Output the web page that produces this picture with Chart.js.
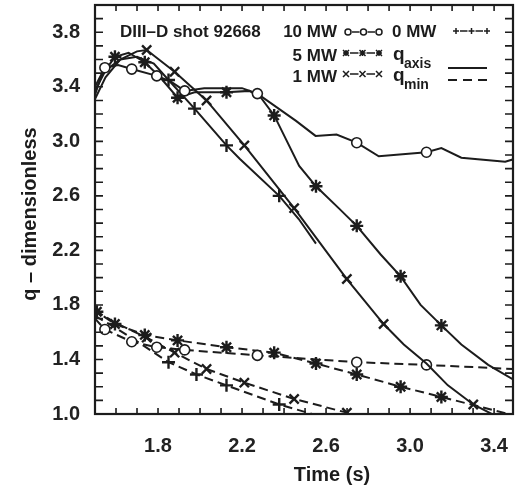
<!DOCTYPE html>
<html>
<head>
<meta charset="utf-8">
<script src="https://cdn.jsdelivr.net/npm/chart.js@4.4.0/dist/chart.umd.min.js"></script>
<style>
  html, body { margin: 0; padding: 0; background: #fff; }
  #wrap { width: 516px; height: 495px; }
</style>
</head>
<body>
<div id="wrap"><canvas id="js--chart"></canvas></div>
<script>
// tick labels
const xTicks = [1.8, 2.2, 2.6, 3.0, 3.4];
const yTicks = [1.0, 1.4, 1.8, 2.2, 2.6, 3.0, 3.4, 3.8];

// q_axis (solid lines)
const t10Axis = [1.50, 1.547, 1.61, 1.675, 1.794, 1.86, 1.927, 2.02, 2.20, 2.273, 2.457, 2.55, 2.65, 2.746, 2.851, 3.078, 3.149, 3.244, 3.453, 3.495];
const q10Axis = [3.40, 3.54, 3.56, 3.53, 3.48, 3.44, 3.37, 3.39, 3.39, 3.35, 3.15, 3.04, 3.05, 2.99, 2.89, 2.92, 2.95, 2.88, 2.85, 2.87];
const m10Axis = [1, 3, 4, 6, 9, 13, 15];

const t5Axis = [1.50, 1.53, 1.595, 1.66, 1.737, 1.81, 1.893, 1.974, 2.126, 2.235, 2.29, 2.353, 2.472, 2.552, 2.66, 2.746, 2.86, 2.955, 3.05, 3.149, 3.244, 3.372, 3.495];
const q5Axis = [3.34, 3.48, 3.62, 3.65, 3.58, 3.47, 3.32, 3.36, 3.36, 3.37, 3.32, 3.19, 2.82, 2.67, 2.51, 2.38, 2.17, 2.01, 1.80, 1.65, 1.51, 1.36, 1.25];
const m5Axis = [2, 4, 6, 8, 11, 13, 15, 17, 19];

const t1Axis = [1.50, 1.55, 1.62, 1.70, 1.746, 1.879, 2.031, 2.211, 2.448, 2.699, 2.874, 2.97, 3.078, 3.18, 3.301, 3.44];
const q1Axis = [3.31, 3.47, 3.60, 3.66, 3.67, 3.51, 3.30, 2.97, 2.51, 1.99, 1.66, 1.51, 1.37, 1.21, 1.07, 0.96];
const m1Axis = [4, 5, 6, 7, 8, 9, 10, 14];

const t0Axis = [1.50, 1.55, 1.62, 1.70, 1.78, 1.85, 1.974, 2.126, 2.19, 2.377, 2.47, 2.552];
const q0Axis = [3.37, 3.52, 3.60, 3.62, 3.57, 3.45, 3.24, 2.97, 2.87, 2.60, 2.43, 2.25];
const m0Axis = [5, 6, 7, 9];

// q_min (dashed lines)
const t10Min = [1.50, 1.547, 1.675, 1.794, 1.927, 2.273, 2.746, 3.078, 3.495];
const q10Min = [1.70, 1.62, 1.53, 1.49, 1.47, 1.43, 1.38, 1.36, 1.33];
const m10Min = [1, 2, 3, 4, 5, 6, 7];

const t5Min = [1.50, 1.509, 1.595, 1.737, 1.893, 2.126, 2.353, 2.552, 2.746, 2.955, 3.149, 3.495];
const q5Min = [1.79, 1.75, 1.66, 1.58, 1.54, 1.49, 1.45, 1.37, 1.29, 1.20, 1.125, 0.99];
const m5Min = [1, 2, 3, 4, 5, 6, 7, 8, 9, 10];

const t1Min = [1.50, 1.595, 1.746, 1.879, 2.031, 2.211, 2.448, 2.699, 2.75];
const q1Min = [1.76, 1.67, 1.56, 1.45, 1.33, 1.23, 1.11, 1.01, 0.98];
const m1Min = [2, 3, 4, 5, 6, 7];

const t0Min = [1.50, 1.60, 1.713, 1.85, 1.983, 2.126, 2.377, 2.60];
const q0Min = [1.72, 1.63, 1.52, 1.38, 1.29, 1.21, 1.07, 0.97];
const m0Min = [3, 4, 5, 6];

const ink = '#1c1c1c';
const font = "'Liberation Sans', Arial, sans-serif";

function pts(t, q) {
    return t.map(function (v, i) { return { x: v, y: q[i] }; });
}

function series(t, q, marks, style, dashed) {
    return {
        data: pts(t, q),
        borderColor: ink,
        borderWidth: 2,
        borderDash: dashed ? [9, 5] : [],
        tension: 0,
        pointStyle: style,
        pointRadius: function (c) { return marks.includes(c.dataIndex) ? (style === 'circle' ? 5 : 6.5) : 0; },
        pointBorderWidth: style === 'circle' ? 1.6 : 2.4,
        pointBorderColor: ink,
        pointBackgroundColor: '#fff',
        pointHoverRadius: 0
    };
}

const datasets = [
    series(t10Axis, q10Axis, m10Axis, 'circle', false),
    series(t5Axis, q5Axis, m5Axis, 'star', false),
    series(t1Axis, q1Axis, m1Axis, 'crossRot', false),
    series(t0Axis, q0Axis, m0Axis, 'cross', false),
    series(t10Min, q10Min, m10Min, 'circle', true),
    series(t5Min, q5Min, m5Min, 'star', true),
    series(t1Min, q1Min, m1Min, 'crossRot', true),
    series(t0Min, q0Min, m0Min, 'cross', true)
];

// small marker for the legend samples
function legendMark(ctx, style, x, y) {
    const r = 3;
    ctx.beginPath();
    if (style === 'circle') {
        ctx.arc(x, y, r, 0, Math.PI * 2);
    } else {
        if (style === 'cross' || style === 'star') {
            ctx.moveTo(x - r, y); ctx.lineTo(x + r, y);
            ctx.moveTo(x, y - r); ctx.lineTo(x, y + r);
        }
        if (style === 'crossRot' || style === 'star') {
            ctx.moveTo(x - r, y - r); ctx.lineTo(x + r, y + r);
            ctx.moveTo(x - r, y + r); ctx.lineTo(x + r, y - r);
        }
    }
    ctx.stroke();
}

function legendSample(ctx, style, x0, x1, y) {
    const xs = [x0 + 3, (x0 + x1) / 2, x1 - 3];
    ctx.lineWidth = 1.5;
    ctx.beginPath();
    ctx.moveTo(xs[0] + 4, y); ctx.lineTo(xs[1] - 4, y);
    ctx.moveTo(xs[1] + 4, y); ctx.lineTo(xs[2] - 4, y);
    ctx.stroke();
    xs.forEach(function (x) { legendMark(ctx, style, x, y); });
}

const decor = {
    id: 'decor',
    afterDraw(chart) {
        const ctx = chart.ctx;
        const a = chart.chartArea;
        const x = chart.scales.x;
        const y = chart.scales.y;
        ctx.save();
        ctx.strokeStyle = ink;
        ctx.fillStyle = ink;

        // inward ticks on all four sides, every 0.1
        ctx.lineWidth = 1.6;
        ctx.beginPath();
        for (let i = 15; i <= 34; i++) {
            const px = x.getPixelForValue(i / 10);
            ctx.moveTo(px, a.bottom); ctx.lineTo(px, a.bottom - 6);
            ctx.moveTo(px, a.top); ctx.lineTo(px, a.top + 6);
        }
        for (let i = 10; i <= 39; i++) {
            const py = y.getPixelForValue(i / 10);
            ctx.moveTo(a.left, py); ctx.lineTo(a.left + 8, py);
            ctx.moveTo(a.right, py); ctx.lineTo(a.right - 8, py);
        }
        ctx.stroke();

        // frame
        ctx.lineWidth = 2.2;
        ctx.strokeRect(a.left, a.top, a.right - a.left, a.bottom - a.top);

        // legend texts
        ctx.textBaseline = 'middle';
        ctx.font = 'bold 17px ' + font;
        ctx.textAlign = 'left';
        ctx.fillText('DIII\u2013D shot 92668', 120, 32);
        ctx.textAlign = 'right';
        ctx.fillText('10 MW', 337, 32);
        ctx.fillText('5 MW', 337, 56);
        ctx.fillText('1 MW', 337, 77);
        ctx.textAlign = 'left';
        ctx.fillText('0 MW', 392, 32);
        ctx.font = 'bold 19px ' + font;
        ctx.fillText('q', 393, 55);
        ctx.fillText('q', 393, 76);
        ctx.font = 'bold 14px ' + font;
        ctx.fillText('axis', 404, 64);
        ctx.fillText('min', 404, 85);

        legendSample(ctx, 'circle', 345, 382, 32);
        legendSample(ctx, 'cross', 453, 490, 31);
        legendSample(ctx, 'star', 343, 382, 53);
        legendSample(ctx, 'crossRot', 343, 382, 74);

        ctx.lineWidth = 2;
        ctx.beginPath();
        ctx.moveTo(448, 68); ctx.lineTo(487, 68);
        ctx.stroke();
        ctx.setLineDash([9, 6]);
        ctx.beginPath();
        ctx.moveTo(448, 80); ctx.lineTo(487, 80);
        ctx.stroke();
        ctx.setLineDash([]);

        // axis titles
        ctx.font = 'bold 20px ' + font;
        ctx.textAlign = 'center';
        ctx.fillText('Time (s)', 332, 475);
        ctx.translate(30, 214);
        ctx.rotate(-Math.PI / 2);
        ctx.fillText('q \u2013 dimensionless', 0, 0);
        ctx.restore();
    }
};

new Chart(document.getElementById('js--chart'), {
    type: 'line',
    data: { datasets: datasets },
    options: {
        responsive: true,
        maintainAspectRatio: false,
        animation: false,
        layout: { padding: { top: 5, right: 3, left: 0, bottom: 0 } },
        plugins: { legend: { display: false }, tooltip: { enabled: false } },
        scales: {
            x: {
                type: 'linear',
                min: 1.5,
                max: 3.49,
                afterBuildTicks: function (s) { s.ticks = xTicks.map(function (v) { return { value: v }; }); },
                afterFit: function (s) { s.height = 81; s.paddingLeft = 0; s.paddingRight = 0; },
                grid: { display: false },
                border: { display: false },
                ticks: {
                    color: '#222',
                    padding: 12,
                    maxRotation: 0,
                    font: { family: font, size: 20, weight: 'bold' },
                    callback: function (v) { return v.toFixed(1); }
                }
            },
            y: {
                type: 'linear',
                min: 1.0,
                max: 4.0,
                afterBuildTicks: function (s) { s.ticks = yTicks.map(function (v) { return { value: v }; }); },
                afterFit: function (s) { s.width = 95; s.paddingTop = 0; s.paddingBottom = 0; },
                grid: { display: false },
                border: { display: false },
                ticks: {
                    color: '#222',
                    padding: 7,
                    font: { family: font, size: 20, weight: 'bold' },
                    callback: function (v) { return v.toFixed(1); }
                }
            }
        }
    },
    plugins: [decor]
});
</script>
</body>
</html>
